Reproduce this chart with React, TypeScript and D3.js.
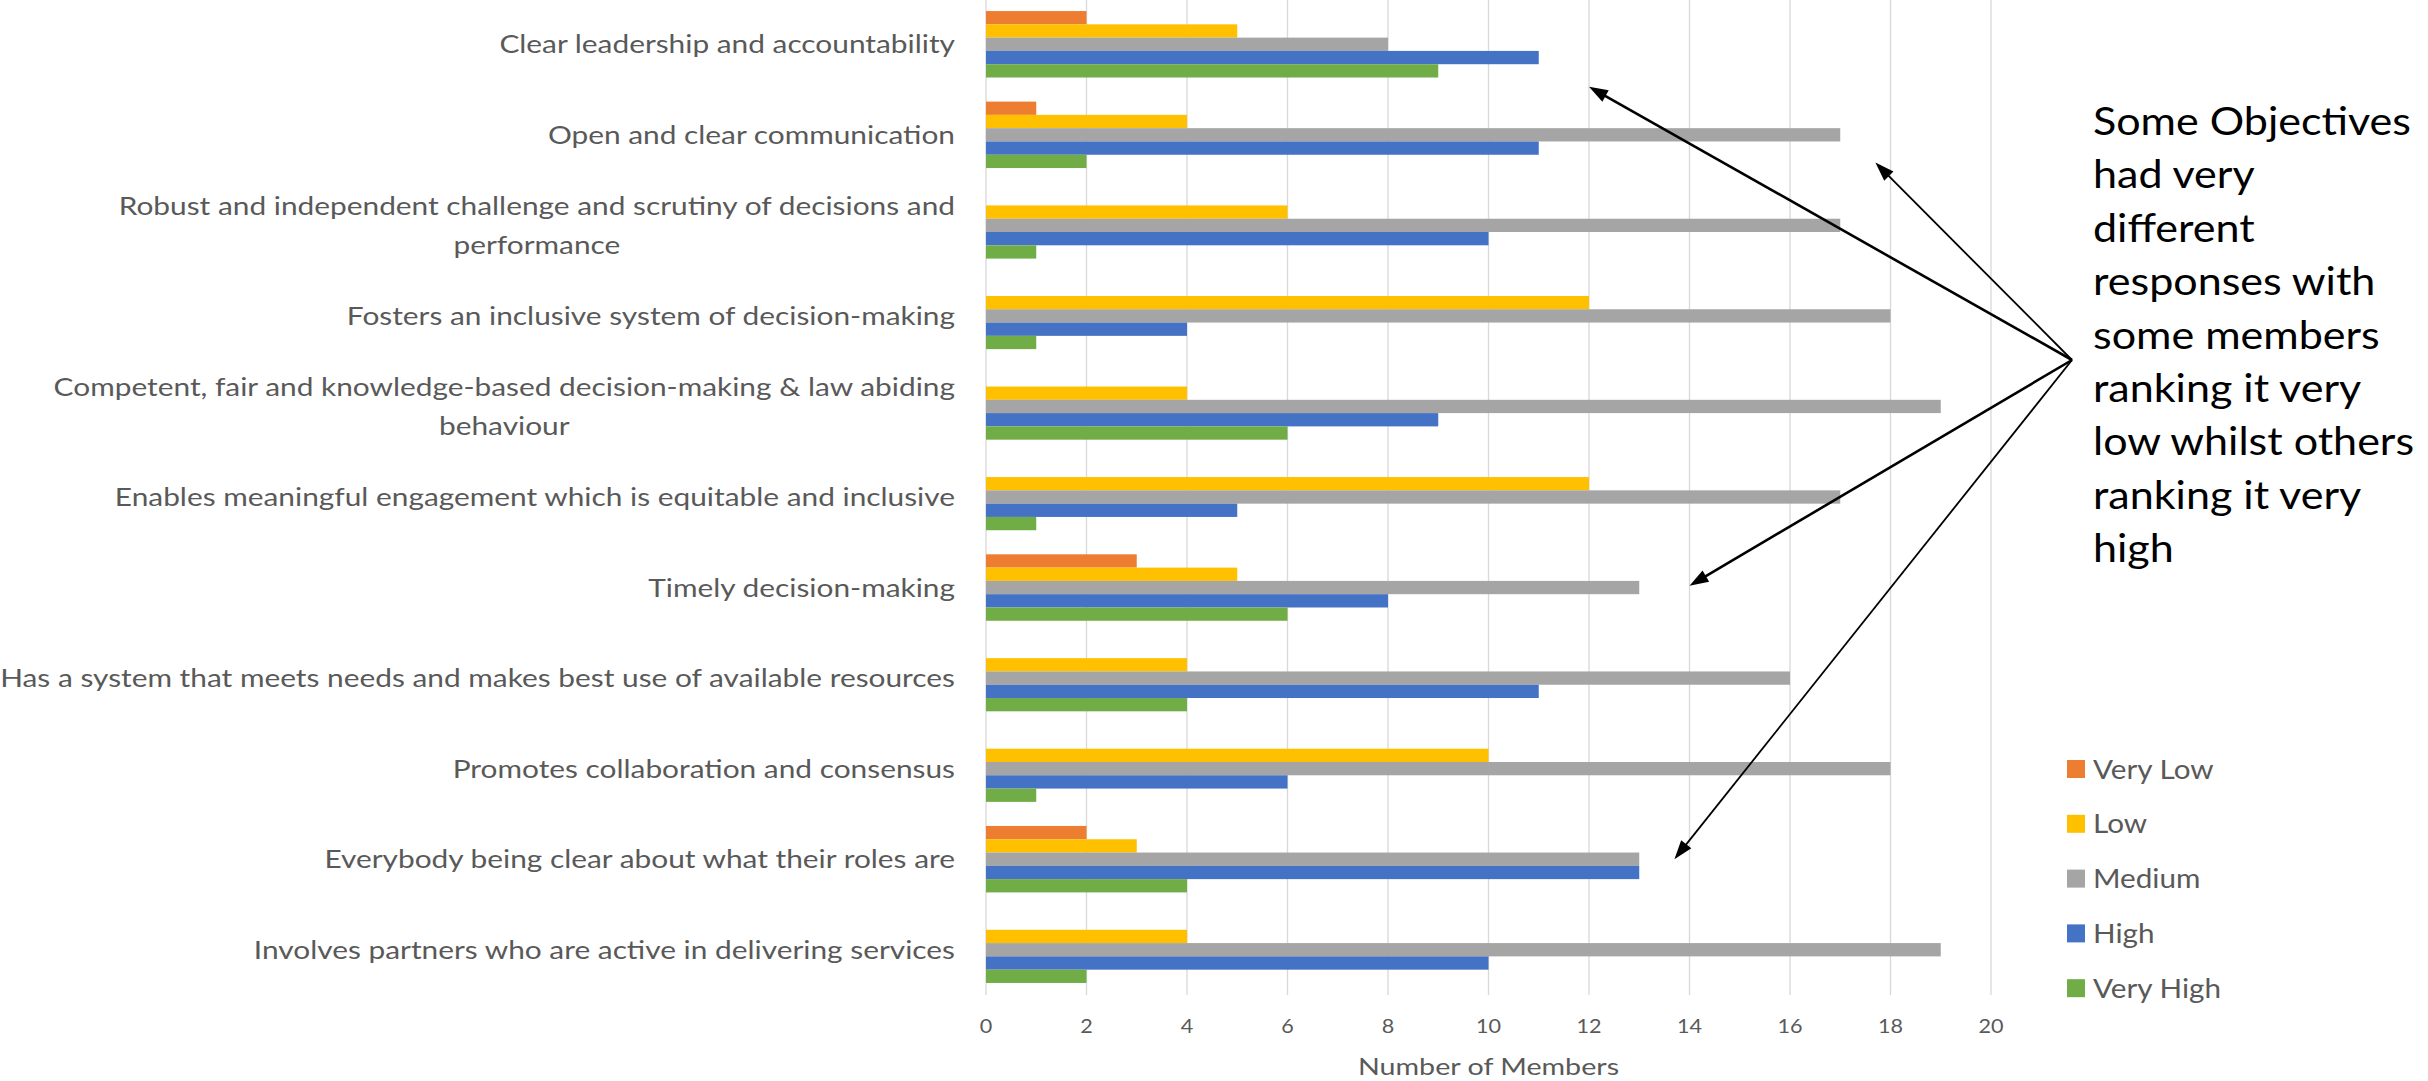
import React, { useEffect, useRef } from "react";
import * as d3 from "d3";

// Survey objectives (top to bottom); "\n" marks where a long label wraps
const categories: string[] = [
  "Clear leadership and accountability",
  "Open and clear communication",
  "Robust and independent challenge and scrutiny of decisions and\nperformance",
  "Fosters an inclusive system of decision-making",
  "Competent, fair and knowledge-based decision-making & law abiding\nbehaviour",
  "Enables meaningful engagement which is equitable and inclusive",
  "Timely decision-making",
  "Has a system that meets needs and makes best use of available resources",
  "Promotes collaboration and consensus",
  "Everybody being clear about what their roles are",
  "Involves partners who are active in delivering services",
];

const seriesNames: string[] = ["Very Low", "Low", "Medium", "High", "Very High"];
const seriesColors: string[] = ["#ED7D31", "#FFC000", "#A5A5A5", "#4472C4", "#70AD47"];

// Number of members giving each rating
const veryLow: number[] = [2, 1, 0, 0, 0, 0, 3, 0, 0, 2, 0];
const low: number[] = [5, 4, 6, 12, 4, 12, 5, 4, 10, 3, 4];
const medium: number[] = [8, 17, 17, 18, 19, 17, 13, 16, 18, 13, 19];
const high: number[] = [11, 11, 10, 4, 9, 5, 8, 11, 6, 13, 10];
const veryHigh: number[] = [9, 2, 1, 1, 6, 1, 6, 4, 1, 4, 2];

const xTicks: number[] = [0, 2, 4, 6, 8, 10, 12, 14, 16, 18, 20];
const axisTitle = "Number of Members";

const noteLines: string[] = [
  "Some Objectives",
  "had very",
  "different",
  "responses with",
  "some members",
  "ranking it very",
  "low whilst others",
  "ranking it very",
  "high",
];

// Arrow targets in data space: value on the x axis, position in category bands
const arrowTargets = [
  { value: 12.0, band: 0.968, width: 2.6 },
  { value: 17.7, band: 1.807, width: 1.8 },
  { value: 14.0, band: 6.48, width: 2.6 },
  { value: 13.7, band: 9.5, width: 1.8 },
];

const W = 2428;
const H = 1081;
const FONT = "Lato, 'Open Sans', sans-serif";
const TEXT = "#595959";

type Sel = d3.Selection<SVGGElement, unknown, null, undefined>;

// Text drawn with a slight horizontal widening (Calibri-like proportions)
function wideText(parent: Sel, x: number, y: number, s: number, str: string, anchor = "start") {
  return parent
    .append("text")
    .attr("transform", `translate(${x},${y}) scale(${s},1)`)
    .attr("text-anchor", anchor)
    .text(str);
}

export default function App() {
  const ref = useRef<SVGSVGElement | null>(null);

  useEffect(() => {
    const svg = d3.select(ref.current);
    svg.selectAll("*").remove();

    const plotLeft = 986;
    const plotRight = 1991;
    const plotTop = -1;
    const plotBottom = 995;

    const x = d3.scaleLinear().domain([0, 20]).range([plotLeft, plotRight]);
    const y = d3
      .scaleBand<string>()
      .domain(categories)
      .range([plotTop, plotBottom])
      .paddingInner(0.266)
      .paddingOuter(0.133);
    const sub = d3
      .scaleBand<string>()
      .domain(seriesNames)
      .range([0, y.bandwidth()])
      .padding(0);

    const seriesValues = [veryLow, low, medium, high, veryHigh];

    // gridlines
    svg
      .append("g")
      .selectAll("line")
      .data(xTicks)
      .join("line")
      .attr("x1", (d) => x(d))
      .attr("x2", (d) => x(d))
      .attr("y1", 0)
      .attr("y2", plotBottom)
      .attr("stroke", "#D9D9D9")
      .attr("stroke-width", 1.33);

    // bars
    const groups = svg
      .append("g")
      .selectAll("g")
      .data(categories)
      .join("g")
      .attr("transform", (c) => `translate(0,${y(c)})`);

    groups
      .selectAll("rect")
      .data((c) =>
        seriesNames.map((s, k) => ({ s, v: seriesValues[k][categories.indexOf(c)], color: seriesColors[k] }))
      )
      .join("rect")
      .attr("x", x(0))
      .attr("y", (d) => sub(d.s)!)
      .attr("width", (d) => x(d.v) - x(0))
      .attr("height", sub.bandwidth())
      .attr("fill", (d) => d.color);

    // category labels
    const labelRight = 955;
    const lineGap = 38.3;
    const labelStretch = 1.17;
    const labels = svg.append("g").attr("font-family", FONT).attr("font-size", 25.5).attr("fill", TEXT) as Sel;
    categories.forEach((c) => {
      const lines = c.split("\n");
      const cy = y(c)! + y.bandwidth() / 2;
      const capHalf = 9.1;
      if (lines.length === 1) {
        wideText(labels, labelRight, cy + capHalf, labelStretch, lines[0], "end");
      } else {
        const first = wideText(labels, labelRight, cy - lineGap / 2 + capHalf, labelStretch, lines[0], "end");
        const w = (first.node() as SVGTextElement).getComputedTextLength() * labelStretch;
        wideText(labels, labelRight - w / 2, cy + lineGap / 2 + capHalf, labelStretch, lines[1], "middle");
      }
    });

    // x tick labels
    const ticks = svg.append("g").attr("font-family", FONT).attr("font-size", 20).attr("fill", TEXT) as Sel;
    xTicks.forEach((t) => wideText(ticks, x(t), 1033, 1.08, String(t), "middle"));

    const title = svg.append("g").attr("font-family", FONT).attr("font-size", 23.5).attr("fill", TEXT) as Sel;
    wideText(title, (plotLeft + plotRight) / 2, 1075, 1.22, axisTitle, "middle");

    // legend
    const legend = svg.append("g").attr("font-family", FONT).attr("font-size", 26.5).attr("fill", TEXT) as Sel;
    seriesNames.forEach((s, k) => {
      const cy = 769 + k * 54.8;
      legend
        .append("rect")
        .attr("x", 2067)
        .attr("y", cy - 9)
        .attr("width", 18)
        .attr("height", 18)
        .attr("fill", seriesColors[k]);
      wideText(legend, 2093, cy + 9.5, 1.12, s);
    });

    // annotation text
    const note = svg.append("g").attr("font-family", FONT).attr("font-size", 39.5).attr("fill", "#000") as Sel;
    noteLines.forEach((line, i) => {
      wideText(note, 2093, 135 + i * 53.4, 1.09, line);
    });

    // arrows from the note to the highlighted objectives
    const origin: [number, number] = [2072, 360];
    const step = y.step();
    const arrows = svg.append("g");
    arrowTargets.forEach((a) => {
      const tx = x(a.value);
      const ty = plotTop + a.band * step;
      const dx = tx - origin[0];
      const dy = ty - origin[1];
      const len = Math.hypot(dx, dy);
      const ux = dx / len;
      const uy = dy / len;
      const headLen = 19;
      const headHalf = 6.5;
      const bx = tx - ux * headLen;
      const by = ty - uy * headLen;
      arrows
        .append("line")
        .attr("x1", origin[0])
        .attr("y1", origin[1])
        .attr("x2", bx + ux * 2)
        .attr("y2", by + uy * 2)
        .attr("stroke", "#000")
        .attr("stroke-width", a.width);
      const pts: [number, number][] = [
        [tx, ty],
        [bx - uy * headHalf, by + ux * headHalf],
        [bx + uy * headHalf, by - ux * headHalf],
      ];
      arrows
        .append("polygon")
        .attr("points", pts.map((p) => p.join(",")).join(" "))
        .attr("fill", "#000");
    });
  }, []);

  return (
    <svg
      ref={ref}
      width={W}
      height={H}
      style={{ position: "fixed", left: 0, top: 0, background: "#fff", display: "block" }}
    />
  );
}
